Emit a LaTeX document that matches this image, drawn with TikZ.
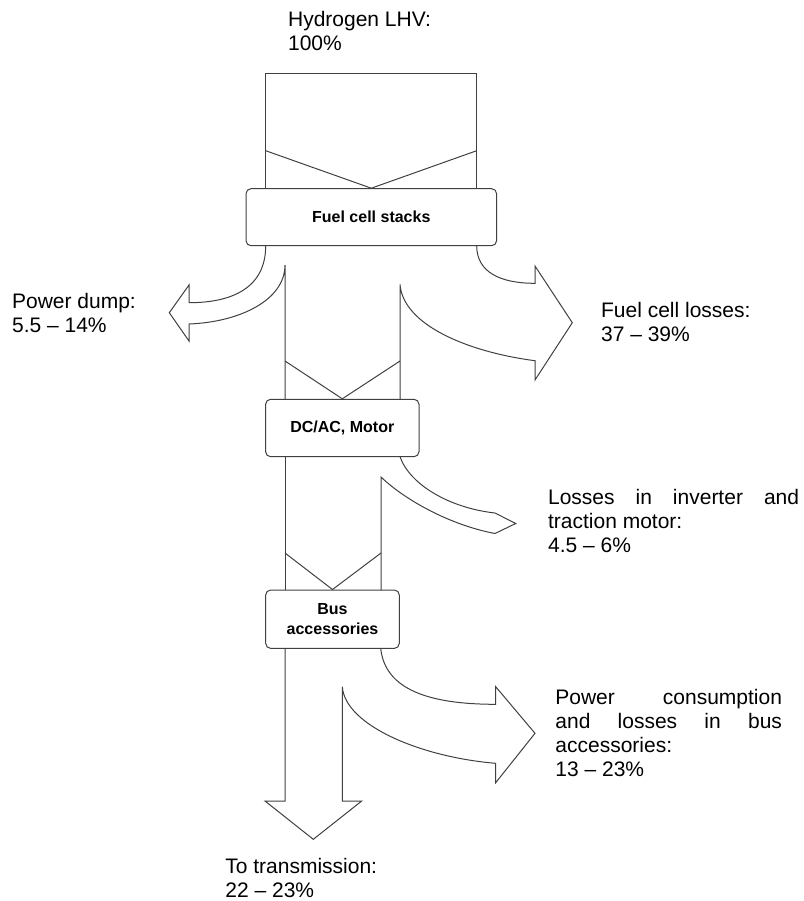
\documentclass[tikz,border=0pt]{standalone}
\usepackage{fontspec}
\setmainfont{Liberation Sans}
\usetikzlibrary{positioning}

\begin{document}
\begin{tikzpicture}[x=0.5pt,y=-0.5pt,
    flow/.style={draw=black!75,line width=0.5pt,line join=miter},
    stage/.style={draw=black!75,line width=0.5pt,fill=white,rounded corners=2.5pt,
      inner sep=0pt,align=center,font=\fontsize{8}{9.7}\selectfont\bfseries},
    share/.style={inner sep=0pt,align=left,anchor=base west,
      font=\fontsize{10.5}{12}\selectfont}]
    \useasboundingbox (0,0) rectangle (804,901);

    % stages
    \node[stage,minimum width=125.3pt,minimum height=28.5pt] (fcs) at (371.3,217.2) {Fuel cell stacks};
    \node[stage,minimum width=76.7pt,minimum height=28.7pt] (inv) at (342.3,428) {DC/AC, Motor};
    \node[stage,minimum width=66.8pt,minimum height=29.2pt] (bus) at (332.5,619.2) {Bus\\accessories};

    % hydrogen in
    \draw[flow] (265.7,188.7) -- (265.7,73) -- (476.7,73) -- (476.7,188.7);
    \draw[flow] (265.7,150.7) -- (fcs.north) -- (476.7,150.7);

    % power dump
    \draw[flow] (265.7,245.7) .. controls (265.7,288) and (232,302.7) .. (189,302.7)
      -- (189,285) -- (169.3,312.7) -- (189,341) -- (189,324)
      .. controls (240,322) and (285,300) .. (285,265) -- (285,399.3);

    % fuel cell losses
    \draw[flow] (476.7,245.7) .. controls (476.7,272) and (500,283.3) .. (535,283.3)
      -- (535,266) -- (572.3,322.7) -- (535,380) -- (535,360.7)
      .. controls (468,352) and (403,325) .. (400,284.3) -- (400,399.3);
    \draw[flow] (285,361) -- (inv.north) -- (400,361);

    % inverter and motor losses
    \draw[flow] (400,456.7) .. controls (410,485) and (450,508) .. (495,513)
      -- (515.7,523.5) -- (495,533.5)
      .. controls (450,525) and (405,500) .. (381,477) -- (381,590);
    \draw[flow] (285,456.7) -- (285,590);
    \draw[flow] (285,553) -- (bus.north) -- (381,553);

    % accessories and transmission
    \draw[flow] (380.7,648.3) .. controls (385,690) and (430,704.3) .. (495.7,704.3)
      -- (495.7,686.7) -- (535,733.3) -- (495.7,782.7) -- (495.7,763.3)
      .. controls (420,757) and (345,725) .. (342.3,686.7) -- (342.3,801)
      -- (361.7,801) -- (313.3,839.3) -- (265,801) -- (285,801) -- (285,648.3);

    % shares (base is the last line)
    \node[share] (h2) at (287.7,50) {Hydrogen LHV:\\100\%};
    \node[share] (dump) at (11.7,332.7) {Power dump:\\5.5 -- 14\%};
    \node[share] (fcloss) at (600.7,341.7) {Fuel cell losses:\\37 -- 39\%};
    \node[share] (invloss) at (547.7,552.3) {\hbox to 125.5pt{Losses\hfill in\hfill inverter\hfill and}\\traction motor:\\4.5 -- 6\%};
    \node[share] (busloss) at (555,776) {\hbox to 113.3pt{Power\hfill consumption}\\\hbox to 113.3pt{and\hfill losses\hfill in\hfill bus}\\accessories:\\13 -- 23\%};
    \node[share] (trans) at (225,897) {To transmission:\\22 -- 23\%};
\end{tikzpicture}
\end{document}
